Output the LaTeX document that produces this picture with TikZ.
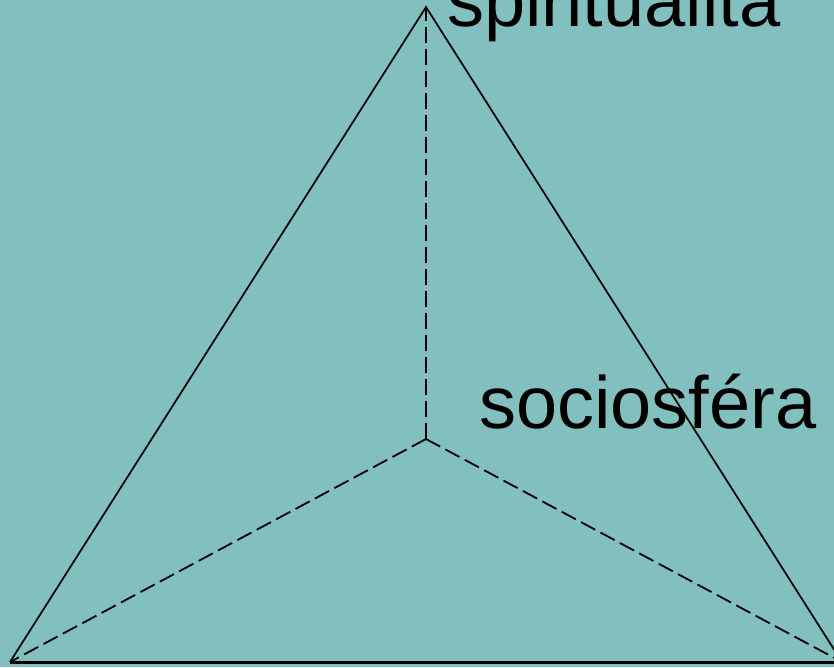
\documentclass[tikz,border=0pt]{standalone}
\usepackage{fontspec}
\setmainfont{Liberation Sans}
\usetikzlibrary{positioning}

\definecolor{bgteal}{RGB}{130,192,192}

\begin{document}
\begin{tikzpicture}[x=1pt, y=-1pt, edge/.style={line width=1.7pt}, hidden/.style={line width=1.8pt, dash pattern=on 16pt off 6pt}, label/.style={font=\fontsize{74}{80}\selectfont, inner sep=0pt}]
        % Canvas
        \useasboundingbox (0,0) rectangle (834,667);
        \fill[bgteal] (0,0) rectangle (834,667);
        \clip (0,0) rectangle (834,667);

        % Corners
        \coordinate (apex) at (426,7);
        \coordinate (left) at (10,662);
        \coordinate (right) at (842,662);
        \coordinate (centre) at (426,439);

        % Edges
        \draw[edge] (left) -- (apex) -- (right);
        \draw[line width=3pt] (left) -- (right);
        \draw[hidden] (centre) -- (apex);
        \draw[hidden] (centre) -- (left);
        \draw[hidden] (centre) -- (right);

        % Labels
        \node (spirit) [label, anchor=base west] at (447,26) {spiritualita};
        \node (socio) [label, anchor=base west] at (479,428) {sociosféra};
    \end{tikzpicture}
\end{document}
